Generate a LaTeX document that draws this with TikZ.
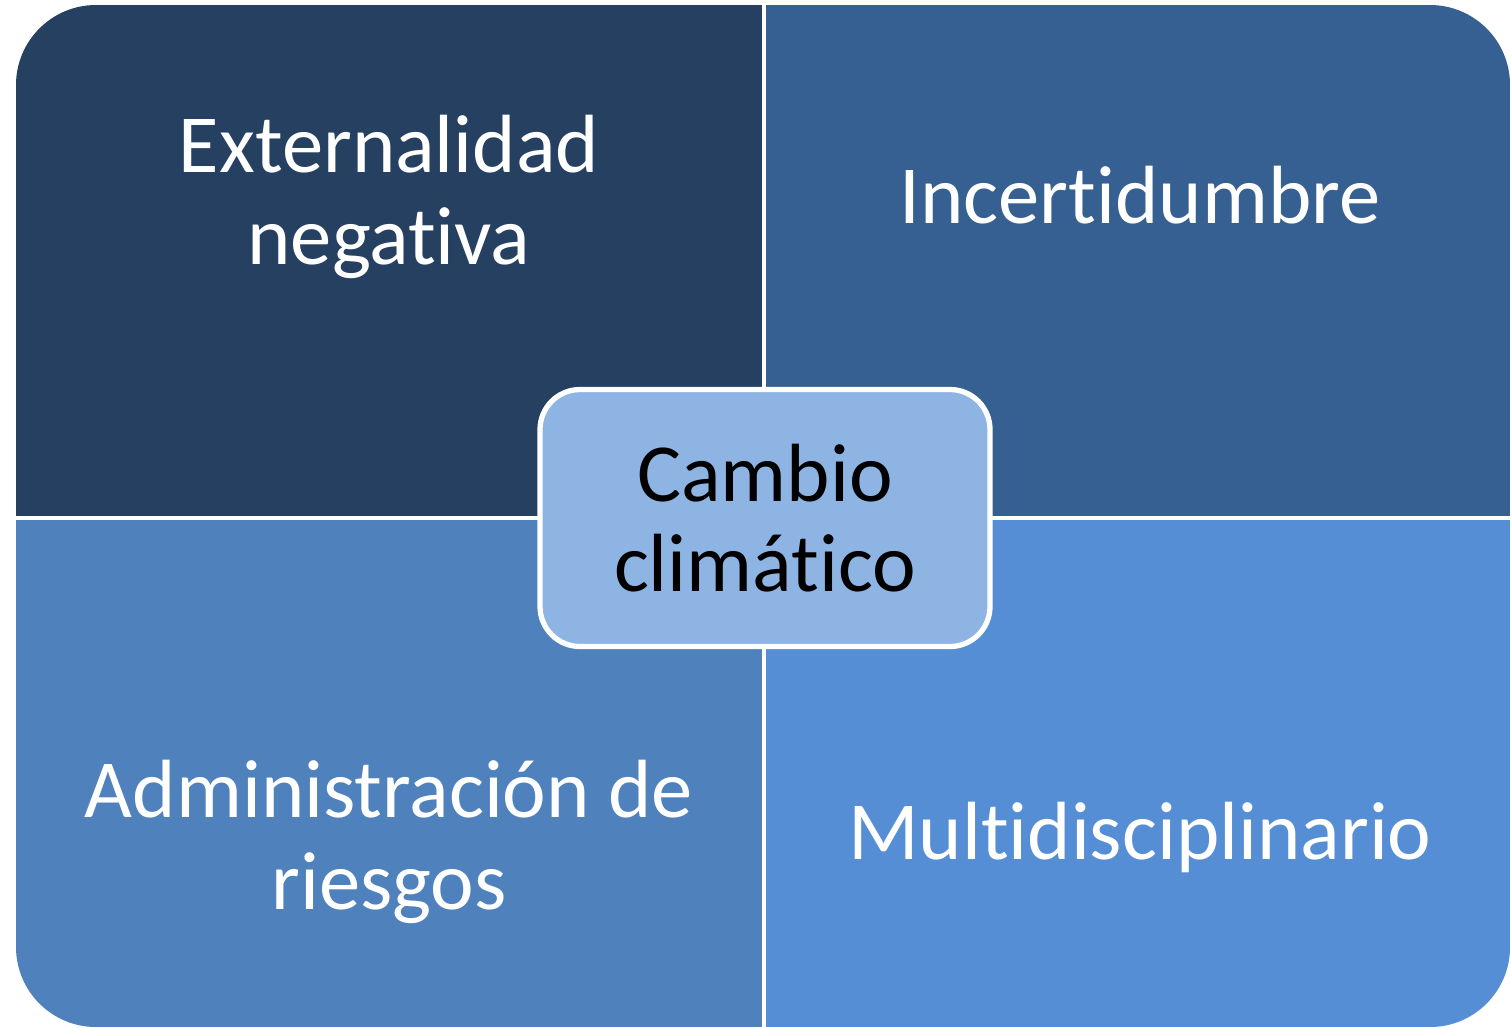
\documentclass[tikz,border=0pt]{standalone}
\usepackage{fontspec}
\setmainfont{Carlito}[Ligatures=NoCommon]
\usepackage{tikz}

\definecolor{quadA}{HTML}{254061}
\definecolor{quadB}{HTML}{376092}
\definecolor{quadC}{HTML}{4F81BD}
\definecolor{quadD}{HTML}{558ED5}
\definecolor{centro}{HTML}{8EB4E3}

\tikzset{
  quadtext/.style={text=white,align=center,font=\fontsize{23.5}{26.3}\selectfont},
  centrebox/.style={draw=white,line width=1.5pt,fill=centro,rounded corners=0.4cm,
    minimum width=4.5cm,minimum height=2.57cm,align=center,
    font=\fontsize{23.5}{25.8}\selectfont}
}

\begin{document}
\begin{tikzpicture}
\useasboundingbox (0,0) rectangle (15.11,-10.27);
\begin{scope}
\clip[rounded corners=0.8cm] (0.16,-0.05) rectangle (15.10,-10.27);
\fill[quadA] (0.16,-0.05) rectangle (7.62,-5.16);
\fill[quadB] (7.66,-0.05) rectangle (15.10,-5.16);
\fill[quadC] (0.16,-5.20) rectangle (7.62,-10.27);
\fill[quadD] (7.66,-5.20) rectangle (15.10,-10.27);
\end{scope}

\node[quadtext] (ext) at (3.89,-1.97) {Externalidad\\negativa};
\node[quadtext] (inc) at (11.40,-1.95) {Incertidumbre};
\node[quadtext] (adm) at (3.89,-8.42) {Administración de\\riesgos};
\node[quadtext] (mul) at (11.40,-8.37) {Multidisciplinario};

\node[centrebox] (cambio) at (7.65,-5.18) {Cambio\\climático};
\end{tikzpicture}
\end{document}
